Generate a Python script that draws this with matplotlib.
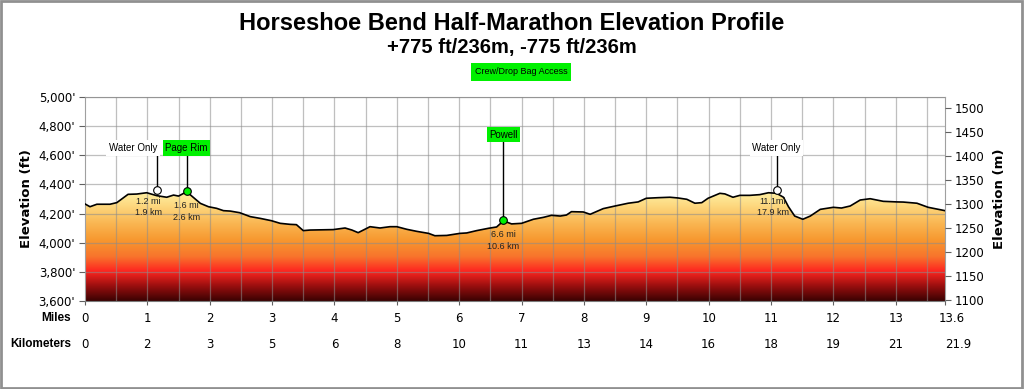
#!/usr/bin/env python3
"""Horseshoe Bend Half-Marathon elevation profile."""

import matplotlib

matplotlib.use("Agg")
import matplotlib.pyplot as plt  # noqa: E402
import matplotlib.transforms as mtransforms  # noqa: E402
import numpy as np  # noqa: E402
from matplotlib.colors import LinearSegmentedColormap  # noqa: E402
from matplotlib.patches import Rectangle  # noqa: E402

MILES = [
    0.00, 0.08, 0.19, 0.40, 0.51, 0.69, 0.83, 0.99, 1.15, 1.31, 1.42, 1.50,
    1.63, 1.85, 1.98, 2.11, 2.22, 2.33, 2.48, 2.65, 2.81, 2.99, 3.13, 3.29,
    3.39, 3.50, 3.61, 3.98, 4.17, 4.28, 4.38, 4.57, 4.73, 4.89, 5.00, 5.16,
    5.32, 5.51, 5.61, 5.80, 6.01, 6.12, 6.28, 6.47, 6.60, 6.71, 6.84, 7.00,
    7.19, 7.35, 7.48, 7.62, 7.72, 7.80, 7.99, 8.10, 8.31, 8.50, 8.71, 8.87,
    9.00, 9.19, 9.38, 9.51, 9.65, 9.78, 9.89, 9.99, 10.18, 10.26, 10.39,
    10.50, 10.66, 10.82, 10.96, 11.09, 11.20, 11.28, 11.38, 11.51, 11.63,
    11.79, 12.00, 12.13, 12.27, 12.43, 12.59, 12.80, 13.02, 13.12, 13.34,
    13.52, 13.79,
]
ELEV_FT = [
    4266, 4247, 4264, 4264, 4275, 4332, 4334, 4343, 4323, 4312, 4327, 4320,
    4350, 4270, 4247, 4236, 4220, 4217, 4206, 4179, 4167, 4151, 4133, 4126,
    4124, 4083, 4087, 4090, 4101, 4087, 4069, 4110, 4101, 4110, 4110, 4092,
    4078, 4064, 4048, 4050, 4064, 4067, 4083, 4099, 4108, 4150, 4129, 4133,
    4161, 4174, 4188, 4183, 4190, 4213, 4211, 4195, 4234, 4252, 4271, 4280,
    4305, 4309, 4312, 4307, 4298, 4271, 4275, 4305, 4339, 4335, 4312,
    4325, 4325, 4330, 4343, 4339, 4312, 4247, 4183, 4161, 4183,
    4229, 4243, 4238, 4252, 4293, 4302, 4284, 4280, 4279, 4271,
    4243, 4220,
]

MILE_TICKS = list(range(14))
KM_LABELS = ["0", "2", "3", "5", "6", "8", "10", "11", "13", "14", "16", "18", "19", "21"]
END_MILE_LABEL = "13.6"
END_KM_LABEL = "21.9"
X_END = 13.79

FT_TICKS = [3600, 3800, 4000, 4200, 4400, 4600, 4800, 5000]
M_TICKS = [1100, 1150, 1200, 1250, 1300, 1350, 1400, 1450, 1500]

# aid stations: label, mile, marker elevation, distance text, crew access
ST_LABELS = ["Water Only", "Page Rim", "Powell", "Water Only"]
ST_MILES = [1.15, 1.63, 6.71, 11.09]
ST_ELEV = [4362, 4355, 4156, 4362]
ST_DIST = ["1.2 mi\n1.9 km", "1.6 mi\n2.6 km", "6.6 mi\n10.6 km", "11.1mi\n17.9 km"]
ST_CREW = [False, True, True, False]

GREEN = "#00f000"
FT_PER_M = 3.28084
SANS = ["Liberation Sans", "DejaVu Sans"]


def main() -> int:
    plt.rcParams.update({"font.family": ["DejaVu Sans"], "font.size": 8.5})
    fig = plt.figure(figsize=(10.24, 3.89), dpi=100)
    ax = fig.add_axes([85 / 1024, 1 - 301 / 389, 860 / 1024, 204 / 389])
    ax.set_xlim(0, X_END)
    ax.set_ylim(3600, 5000)

    # gradient fill clipped to the profile
    cmap = LinearSegmentedColormap.from_list(
        "elev",
        [
            (0.00, "#3a0202"),
            (0.13, "#960e0e"),
            (0.27, "#fe2620"),
            (0.40, "#f8742c"),
            (0.55, "#f7982f"),
            (0.70, "#fab652"),
            (0.85, "#fdd67c"),
            (1.00, "#fff3a8"),
        ],
    )
    grad = np.linspace(0, 1, 256).reshape(-1, 1)
    img = ax.imshow(
        grad, cmap=cmap, origin="lower", aspect="auto",
        extent=[0, X_END, 3600, 4360], zorder=1,
    )
    poly = ax.fill_between(MILES, ELEV_FT, 3600, color="none", linewidth=0)
    img.set_clip_path(poly.get_paths()[0], transform=ax.transData)
    ax.plot(MILES, ELEV_FT, color="black", linewidth=1.2, zorder=4)

    # grid on top so it shows through the fill
    for xv in np.arange(0.5, X_END, 0.5):
        ax.axvline(xv, color="#8c8c8c", linewidth=0.9, alpha=0.55, zorder=3)
    for yv in FT_TICKS[1:]:
        ax.axhline(yv, color="#8c8c8c", linewidth=0.9, alpha=0.55, zorder=3)

    for side in ("left", "right", "top", "bottom"):
        ax.spines[side].set_color("#a0a0a0")
    ax.spines["bottom"].set_color("#7a7a7a")

    ax.set_yticks(FT_TICKS)
    ax.set_yticklabels([f"{v:,}'" for v in FT_TICKS])
    ax.tick_params(axis="y", length=4, color="#606060", pad=3)
    ax.set_xticks(MILE_TICKS + [X_END])
    ax.set_xticklabels([str(m) for m in MILE_TICKS] + [END_MILE_LABEL])
    ax.tick_params(axis="x", length=3, color="#606060", pad=5)
    last = ax.get_xticklabels()[-1]
    last.set_transform(last.get_transform() + mtransforms.ScaledTranslation(
        0.07, 0, fig.dpi_scale_trans))
    ax.set_ylabel("Elevation (ft)", fontweight="bold", fontsize=9.5, labelpad=4)

    ax2 = ax.twinx()
    ax2.set_ylim(3600 / FT_PER_M, 5000 / FT_PER_M)
    ax2.set_yticks(M_TICKS)
    ax2.tick_params(axis="y", length=4, color="#606060", pad=3)
    for side in ("left", "right", "top", "bottom"):
        ax2.spines[side].set_visible(False)
    ax2.set_ylabel("Elevation (m)", fontweight="bold", fontsize=9.5, labelpad=6)

    # km row and row titles
    km_tr = ax.get_xaxis_transform()
    for m, lab in zip(MILE_TICKS, KM_LABELS):
        ax.text(m, -0.215, lab, transform=km_tr, ha="center", va="center")
    ax.text(X_END + 0.22, -0.215, END_KM_LABEL, transform=km_tr, ha="center", va="center")
    fig.text(71 / 1024, 1 - 318 / 389, "Miles", ha="right", va="center",
             fontweight="bold", fontsize=8.5, family=SANS)
    fig.text(71 / 1024, 1 - 344 / 389, "Kilometers", ha="right", va="center",
             fontweight="bold", fontsize=8.5, family=SANS)

    # aid stations
    for i, label in enumerate(ST_LABELS):
        mile, elev, crew = ST_MILES[i], ST_ELEV[i], ST_CREW[i]
        text_y = 4740 if label == "Powell" else 4650
        ax.plot([mile, mile], [elev, text_y - 50], color="black", linewidth=1.0, zorder=5)
        ax.plot(mile, elev, marker="o", markersize=5.5, zorder=6,
                markerfacecolor=GREEN if crew else "white",
                markeredgecolor="black", markeredgewidth=0.8)
        if i == 0:
            tx, ha = mile + 0.01, "right"
        else:
            tx, ha = mile, "center"
        ax.text(tx, text_y, label, ha=ha, va="center", fontsize=7, zorder=7,
                family=SANS,
                bbox=dict(facecolor=GREEN if crew else "white", edgecolor="none",
                          pad=1.8))
        dx = {0: -0.13, 3: -0.06}.get(i, 0.0)
        dy = -45 if not crew else -70
        ax.text(mile + dx, elev + dy, ST_DIST[i], ha="center", va="top",
                fontsize=6.5, linespacing=1.35, zorder=7, color="#222222",
                family=SANS)

    # titles
    fig.text(0.5, 1 - 23 / 389, "Horseshoe Bend Half-Marathon Elevation Profile",
             ha="center", va="center", fontsize=17, fontweight="bold",
             family=SANS)
    fig.text(0.5, 1 - 47 / 389, "+775 ft/236m, -775 ft/236m", ha="center",
             va="center", fontsize=14.5, fontweight="bold", family=SANS)
    fig.text(521 / 1024, 1 - 72 / 389, "Crew/Drop Bag Access", ha="center",
             va="center", fontsize=6.5, family=SANS,
             bbox=dict(facecolor=GREEN, edgecolor="none", pad=3))

    fig.patches.append(Rectangle((0.001, 0.002), 0.997, 0.995, transform=fig.transFigure,
                                 fill=False, edgecolor="#909090", linewidth=2))
    fig.savefig("out.png", dpi=100)
    plt.close(fig)
    return 0


if __name__ == "__main__":
    raise SystemExit(main())
